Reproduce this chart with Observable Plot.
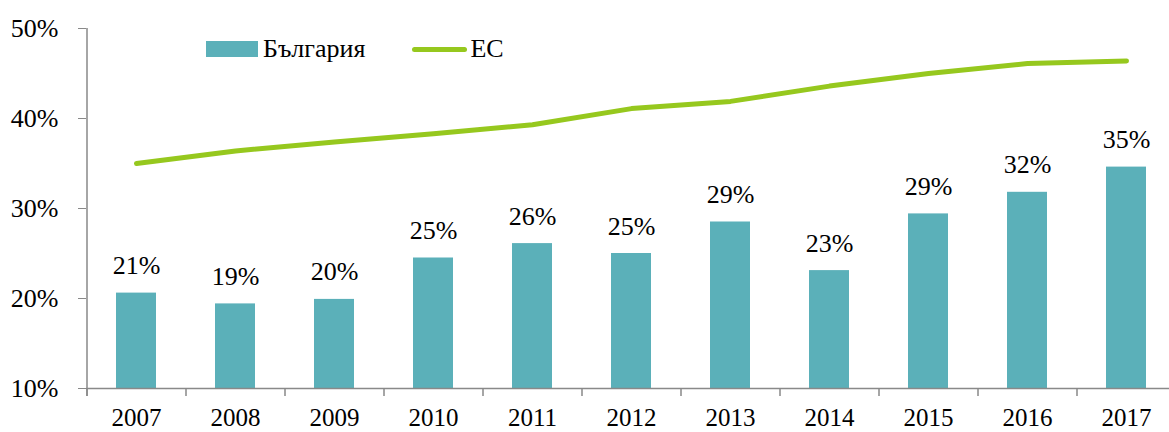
<!DOCTYPE html>
<html><head><meta charset="utf-8">
<script src="https://cdn.jsdelivr.net/npm/d3@7"></script>
<script src="https://cdn.jsdelivr.net/npm/@observablehq/plot@0.6"></script>
<style>
body{margin:0;background:#fff;}
#wrap{position:relative;width:1169px;height:432px;font-family:"Liberation Serif",serif;overflow:hidden;}
#legend{position:absolute;left:206px;top:36px;display:flex;align-items:center;font-size:26px;line-height:1;color:#000;}
#legend .sw{width:52px;height:16px;background:#5BB0B9;margin-right:5px;}
#legend .ln{width:55px;height:5px;border-radius:3px;background:#96C81E;margin-left:47px;margin-right:3px;}
</style></head>
<body>
<div id="wrap"><div id="chart"></div>
<div id="legend"><div class="sw"></div><span id="l1"></span><div class="ln"></div><span id="l2"></span></div>
</div>
<script>
const years = ["2007","2008","2009","2010","2011","2012","2013","2014","2015","2016","2017"];
const bulgaria = [20.6, 19.4, 19.9, 24.5, 26.1, 25.0, 28.5, 23.1, 29.4, 31.8, 34.6];
const eu = [35.0, 36.4, 37.4, 38.3, 39.3, 41.1, 41.9, 43.6, 45.0, 46.1, 46.4];
const barLabels = ["21%","19%","20%","25%","26%","25%","29%","23%","29%","32%","35%"];
const yTicks = [10, 20, 30, 40, 50];
const seriesNames = ["България", "ЕС"];

document.getElementById("l1").textContent = seriesNames[0];
document.getElementById("l2").textContent = seriesNames[1];

const table = years.map((year, i) => ({year, bg: bulgaria[i], eu: eu[i], label: barLabels[i]}));
const axisColor = "#898989";
const yMin = yTicks[0], yMax = yTicks[yTicks.length - 1];

const chart = Plot.plot({
  width: 1169, height: 432,
  marginTop: 28, marginBottom: 44, marginLeft: 86, marginRight: 0,
  style: {fontFamily: "'Liberation Serif', serif", fontSize: "26px", color: "#000", background: "#fff", overflow: "hidden"},
  x: {type: "band", domain: years, range: [86, 1175], paddingInner: 0.6, paddingOuter: 0.3, label: null},
  y: {domain: [yMin, yMax], label: null},
  marks: [
    Plot.barY(table, {x: "year", y1: yMin, y2: "bg", fill: "#5BB0B9"}),
    Plot.line(table, {x: "year", y: "eu", stroke: "#96C81E", strokeWidth: 5, strokeLinecap: "round", strokeLinejoin: "round"}),
    Plot.text(table, {x: "year", y: "bg", text: "label", lineAnchor: "bottom", dy: -19, fontSize: 26, fill: "#000"}),
    Plot.ruleY([yMin], {stroke: axisColor, strokeWidth: 1.5}),
    Plot.ruleX([years[0]], {x: d => d, dx: -49.5, y1: yMax, y2: yMin, insetBottom: -8, stroke: axisColor, strokeWidth: 1.5}),
    Plot.ruleX(years, {x: d => d, dx: -49.5, y1: yMin, y2: yMin, insetBottom: -8, stroke: axisColor, strokeWidth: 1.5}),
    Plot.axisY({ticks: yTicks, tickFormat: d => d + "%", tickSize: 8, tickPadding: 20, stroke: axisColor, fill: "#000", fontSize: 26, label: null}),
    Plot.axisX({tickSize: 0, tickPadding: 20, fontSize: 25, fill: "#000", label: null, tickFormat: d => d})
  ]
});
document.getElementById("chart").appendChild(chart);
</script>
</body></html>
